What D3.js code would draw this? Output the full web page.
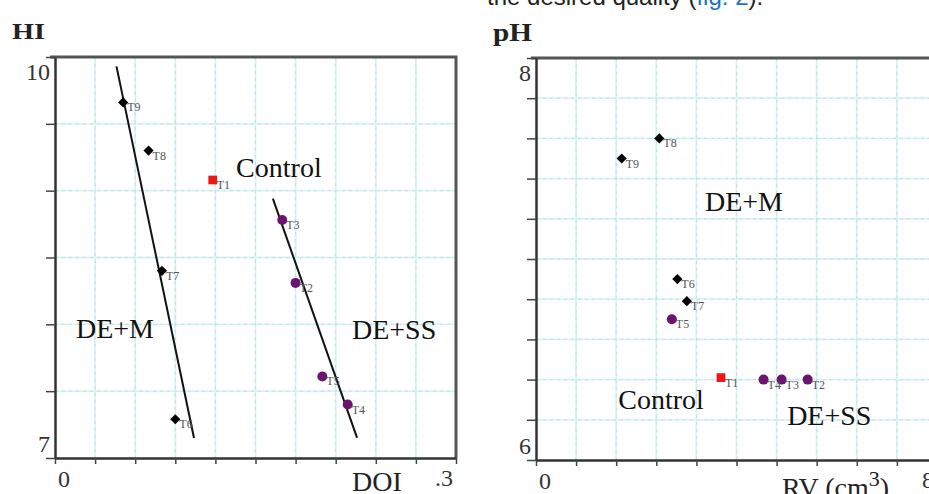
<!DOCTYPE html>
<html>
<head>
<meta charset="utf-8">
<script src="https://cdn.jsdelivr.net/npm/d3@7"></script>
<style>
  body { margin: 0; background: #fff; }
  svg { display: block; }
  text { font-family: "Liberation Serif", "Times New Roman", serif; }
</style>
</head>
<body>
<svg id="fig" width="929" height="494"></svg>
<script>
// ---- left panel: HI against DOI ----
var hiMixLabels = ["T9", "T8", "T7", "T6"];
var hiMixDoi = [0.051, 0.070, 0.080, 0.090];
var hiMixHi = [9.66, 9.30, 8.40, 7.29];
var hiSsLabels = ["T3", "T2", "T5", "T4"];
var hiSsDoi = [0.170, 0.180, 0.200, 0.219];
var hiSsHi = [8.78, 8.31, 7.61, 7.40];
var hiControlLabels = ["T1"];
var hiControlDoi = [0.118];
var hiControlHi = [9.08];
// fitted lines, end points
var hiMixFit = [[0.046, 9.93], [0.104, 7.15]];
var hiSsFit = [[0.163, 8.94], [0.226, 7.15]];
var hiXTicks = [0, 0.03, 0.06, 0.09, 0.12, 0.15, 0.18, 0.21, 0.24, 0.27, 0.3];
var hiYTicks = [7, 7.5, 8, 8.5, 9, 9.5, 10];
var hiXTickLabels = ["0", ".3"];
var hiYTickLabels = ["7", "10"];

// ---- right panel: pH against RV ----
var phMixLabels = ["T9", "T8", "T6", "T7"];
var phMixRv = [1.71, 2.46, 2.82, 3.01];
var phMixPh = [7.50, 7.60, 6.90, 6.79];
var phSsLabels = ["T5", "T4", "T3", "T2"];
var phSsRv = [2.71, 4.54, 4.90, 5.42];
var phSsPh = [6.70, 6.40, 6.40, 6.40];
var phControlLabels = ["T1"];
var phControlRv = [3.69];
var phControlPh = [6.41];
var phXTicks = [0, 0.8, 1.6, 2.4, 3.2, 4, 4.8, 5.6, 6.4, 7.2, 8];
var phYTicks = [6, 6.2, 6.4, 6.6, 6.8, 7, 7.2, 7.4, 7.6, 7.8, 8];
var phXTickLabels = ["0", "8"];
var phYTickLabels = ["6", "8"];

var svg = d3.select("#fig");

// bit of the article text cut off at the top of the screenshot
var cut = svg.append("text")
  .attr("x", 487).attr("y", 5)
  .style("font-family", "'Liberation Sans', Arial, sans-serif")
  .style("font-size", "24px")
  .attr("fill", "#222");
cut.append("tspan").text("the desired quality (");
cut.append("tspan").attr("fill", "#1a73c8").text("fig. 2");
cut.append("tspan").text(").");

function zip(labels, xs, ys) {
  return labels.map(function (l, i) { return { label: l, x: xs[i], y: ys[i] }; });
}

function panel(o) {
  var g = svg.append("g");
  var x = d3.scaleLinear().domain([o.xTicks[0], o.xTicks[o.xTicks.length - 1]])
    .range([o.left, o.left + o.w]);
  var y = d3.scaleLinear().domain([o.yTicks[0], o.yTicks[o.yTicks.length - 1]])
    .range([o.top + o.h, o.top]);
  var bottom = o.top + o.h, right = o.left + o.w;

  // grid: pale cyan line with a faint grey dashed line on top
  var grid = g.append("g");
  [["#d2f6f6", 1.8, null], ["#d8d8d8", 1, "3,4"]].forEach(function (s) {
    grid.selectAll(null).data(o.xTicks.slice(1, -1)).enter().append("line")
      .attr("x1", x).attr("x2", x).attr("y1", o.top).attr("y2", bottom)
      .attr("stroke", s[0]).attr("stroke-width", s[1]).attr("stroke-dasharray", s[2]);
    grid.selectAll(null).data(o.yTicks.slice(1, -1)).enter().append("line")
      .attr("y1", y).attr("y2", y).attr("x1", o.left).attr("x2", right)
      .attr("stroke", s[0]).attr("stroke-width", s[1]).attr("stroke-dasharray", s[2]);
  });

  // frame top and right
  g.append("path")
    .attr("d", "M" + (o.left - 5) + "," + o.top + "H" + right + "V" + bottom)
    .attr("fill", "none").attr("stroke", "#555").attr("stroke-width", 3);

  // axes
  var xa = g.append("g").attr("transform", "translate(0," + bottom + ")")
    .call(d3.axisBottom(x).tickValues(o.xTicks).tickSize(6).tickSizeOuter(0).tickFormat(""));
  var ya = g.append("g").attr("transform", "translate(" + o.left + ",0)")
    .call(d3.axisLeft(y).tickValues(o.yTicks).tickSize(9).tickSizeOuter(0).tickFormat(""));
  [xa, ya].forEach(function (a) {
    a.select(".domain").attr("stroke", "#333").attr("stroke-width", 2.5);
    a.selectAll(".tick line").attr("stroke", "#444").attr("stroke-width", 1.5);
  });

  // end tick labels
  g.append("text").attr("x", o.left + 3).attr("y", bottom + 29)
    .style("font-size", "24px").attr("fill", "#333").text(o.xTickLabels[0]);
  g.append("text").attr("x", right - 3).attr("y", bottom + 28)
    .attr("text-anchor", "end").style("font-size", "24px").attr("fill", "#333").text(o.xTickLabels[1]);
  g.append("text").attr("x", o.left - 5).attr("y", bottom - 6)
    .attr("text-anchor", "end").style("font-size", "24px").attr("fill", "#333").text(o.yTickLabels[0]);
  g.append("text").attr("x", o.left - 5).attr("y", o.top + 23)
    .attr("text-anchor", "end").style("font-size", "24px").attr("fill", "#333").text(o.yTickLabels[1]);

  // fitted lines
  var line = d3.line().x(function (d) { return x(d[0]); }).y(function (d) { return y(d[1]); });
  (o.fits || []).forEach(function (f) {
    g.append("path").datum(f).attr("d", line)
      .attr("fill", "none").attr("stroke", "#111").attr("stroke-width", 2);
  });

  // markers
  var diamond = d3.symbol().type(d3.symbolSquare).size(52);
  g.selectAll(null).data(o.mix).enter().append("path")
    .attr("d", diamond)
    .attr("transform", function (d) { return "translate(" + x(d.x) + "," + y(d.y) + ") rotate(45)"; })
    .attr("fill", "#000");
  g.selectAll(null).data(o.ss).enter().append("circle")
    .attr("cx", function (d) { return x(d.x); }).attr("cy", function (d) { return y(d.y); })
    .attr("r", 5).attr("fill", "#6a1470");
  var square = d3.symbol().type(d3.symbolSquare).size(76);
  g.selectAll(null).data(o.control).enter().append("path")
    .attr("d", square)
    .attr("transform", function (d) { return "translate(" + x(d.x) + "," + y(d.y) + ")"; })
    .attr("fill", "#ee1515");

  // point labels
  g.selectAll(null).data(o.mix.concat(o.ss, o.control)).enter().append("text")
    .attr("x", function (d) { return x(d.x) + 4; })
    .attr("y", function (d) { return y(d.y) + 9; })
    .style("font-size", "12px").attr("fill", "#555")
    .text(function (d) { return d.label; });

  // group names
  g.selectAll(null).data(o.notes).enter().append("text")
    .attr("x", function (d) { return x(d.x); })
    .attr("y", function (d) { return y(d.y); })
    .style("font-size", "28px").attr("fill", "#111")
    .text(function (d) { return d.text; });

  return { x: x, y: y };
}

panel({
  left: 55, top: 57, w: 401, h: 401,
  xTicks: hiXTicks, yTicks: hiYTicks,
  xTickLabels: hiXTickLabels, yTickLabels: hiYTickLabels,
  mix: zip(hiMixLabels, hiMixDoi, hiMixHi),
  ss: zip(hiSsLabels, hiSsDoi, hiSsHi),
  control: zip(hiControlLabels, hiControlDoi, hiControlHi),
  fits: [hiMixFit, hiSsFit],
  notes: [
    { text: "Control", x: 0.1355, y: 9.10 },
    { text: "DE+M", x: 0.0157, y: 7.90 },
    { text: "DE+SS", x: 0.2222, y: 7.89 }
  ]
});

panel({
  left: 536, top: 58, w: 401, h: 402,
  xTicks: phXTicks, yTicks: phYTicks,
  xTickLabels: phXTickLabels, yTickLabels: phYTickLabels,
  mix: zip(phMixLabels, phMixRv, phMixPh),
  ss: zip(phSsLabels, phSsRv, phSsPh),
  control: zip(phControlLabels, phControlRv, phControlPh),
  fits: [],
  notes: [
    { text: "DE+M", x: 3.37, y: 7.24 },
    { text: "Control", x: 1.64, y: 6.255 },
    { text: "DE+SS", x: 5.01, y: 6.175 }
  ]
});

// axis titles
svg.append("text").attr("x", 12).attr("y", 39)
  .attr("textLength", 33).attr("lengthAdjust", "spacingAndGlyphs")
  .style("font-size", "23px").style("font-weight", "bold").attr("fill", "#222").text("HI");
svg.append("text").attr("x", 352).attr("y", 491)
  .style("font-size", "28px").attr("fill", "#222").text("DOI");
svg.append("text").attr("x", 493).attr("y", 41)
  .attr("textLength", 39).attr("lengthAdjust", "spacingAndGlyphs")
  .style("font-size", "25px").style("font-weight", "bold").attr("fill", "#222").text("pH");
var rv = svg.append("text").attr("x", 782).attr("y", 497)
  .style("font-size", "28px").attr("fill", "#222");
rv.append("tspan").text("RV (cm");
rv.append("tspan").attr("dy", -11).style("font-size", "22px").text("3");
rv.append("tspan").attr("dy", 11).text(")");
</script>
</body>
</html>
